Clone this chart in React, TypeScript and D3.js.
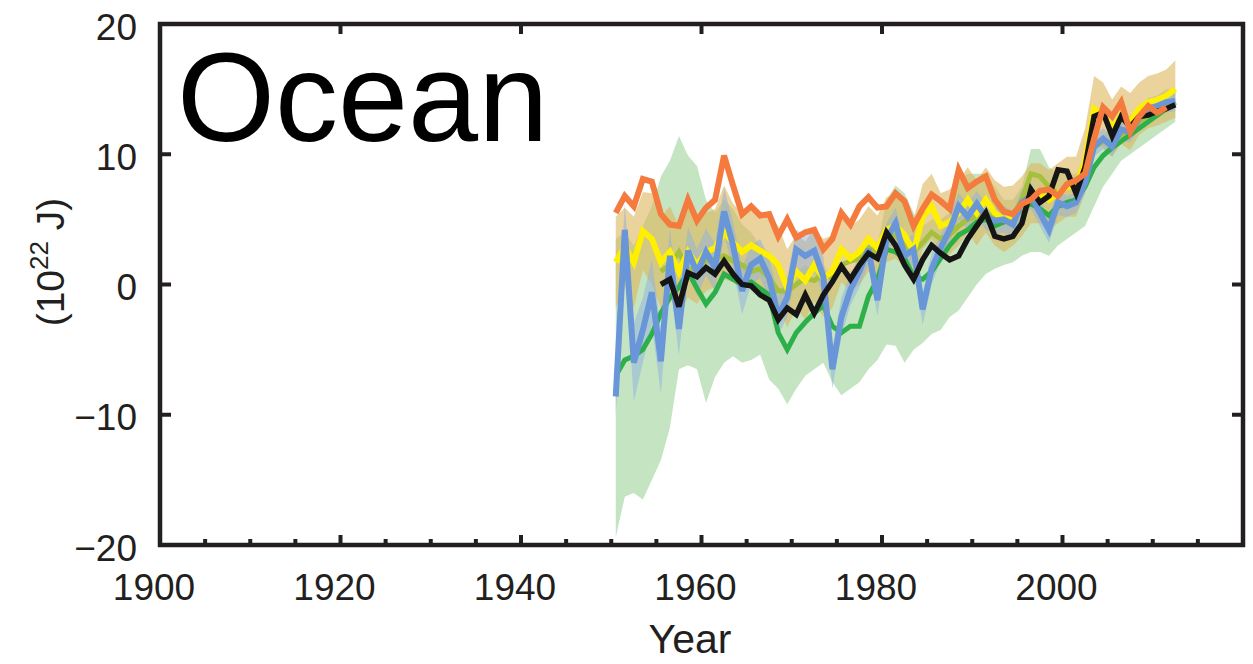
import React from 'react';
import * as d3 from 'd3';

const W = 1253;
const H = 664;

// Years of the annual series (values plotted at mid-year)
const years: number[] = d3.range(1950, 2013);

// Series values (10^22 J), 1950..2012 (null = no data)
const orange: (number | null)[] = [
  5.5, 6.8, 6.0, 8.1, 7.9, 5.4, 4.6, 4.5, 6.5, 4.9,
  5.9, 6.5, 9.9, 7.6, 5.4, 6.0, 5.3, 5.4, 3.7, 5.0,
  3.6, 4.0, 4.2, 2.7, 3.5, 5.5, 4.6, 6.0, 6.7, 5.9,
  6.0, 7.0, 6.4, 4.5, 5.8, 6.9, 6.4, 5.8, 8.8, 7.4,
  7.9, 8.3, 6.5, 5.6, 5.4, 6.2, 6.5, 7.2, 7.3, 6.8,
  7.7, 8.0, 8.5, 11.2, 13.6, 12.9, 14.0, 11.7, 12.9, 13.7,
  13.2, 13.6, null,
];

const black: (number | null)[] = [
  null, null, null, null, null,
  0.0, 0.4, -1.7, 0.9, 0.6,
  1.3, 0.8, 1.8, 0.8, 0.0, -0.1, -0.8, -1.2, -2.7, -1.8,
  -2.3, -0.8, -2.2, -0.8, 0.2, 1.4, 0.4, 1.5, 2.4, 2.0,
  4.0, 3.0, 1.5, 0.4, 1.9, 3.0, 2.4, 1.9, 2.2, 3.5,
  4.5, 5.5, 3.7, 3.5, 3.7, 4.7, 7.3, 6.3, 6.8, 8.8,
  8.7, 7.0, 9.0, 12.9, 13.2, 11.4, 12.9, 12.1, 12.9, 13.0,
  13.3, 13.5, 13.8,
];

const blue: number[] = [
  -8.6, 4.2, -6.0, -3.5, -0.6, -5.9, 2.2, -3.4, 2.6, 0.9,
  2.5, 1.3, 5.6, 3.0, -0.5, 1.5, 2.0, 0.5, -2.4, -1.0,
  2.7, 2.2, 2.6, 0.6, -6.5, -2.5, -0.4, 1.0, 2.7, -1.2,
  3.5, 4.7, 2.2, 2.7, -1.9, 1.2, 2.8, 4.2, 6.0, 5.2,
  6.2, 5.2, 4.9, 5.0, 4.6, 6.3, 6.8, 5.5, 4.2, 6.3,
  6.0, 6.3, 7.8, 10.6, 11.2, 10.6, 11.9, 11.7, 12.8, 13.5,
  13.7, 14.0, 14.1,
];

const blueHalf: number[] = [
  1.5, 2.0, 3.0, 2.5, 2.5, 2.5, 2.0, 2.0, 1.8, 1.8,
  1.8, 1.8, 1.8, 1.8, 1.8, 1.5, 1.5, 1.5, 1.5, 1.5,
  1.5, 1.5, 1.5, 1.5, 1.5, 1.5, 1.2, 1.2, 1.2, 1.2,
  1.2, 1.2, 1.2, 1.2, 1.2, 1.2, 1.0, 1.0, 1.0, 1.0,
  1.0, 1.0, 1.0, 1.0, 1.0, 1.0, 1.0, 1.0, 1.0, 1.0,
  0.8, 0.8, 0.8, 0.8, 0.8, 0.8, 0.8, 0.8, 0.8, 0.8,
  0.8, 0.8, 0.8,
];

const green: number[] = [
  -7.0, -5.8, -5.5, -5.0, -3.8, -2.2, -1.0, -0.2, 1.0, -0.3,
  -1.5, -0.6, 0.8, 0.4, 0.0, 0.2, -0.3, -0.8, -3.7, -5.0,
  -3.7, -2.9, -2.2, -1.6, -3.2, -3.7, -3.2, -3.2, -0.9, 0.4,
  2.7, 2.5, 2.0, 0.6, 0.4, 1.0, 2.0, 3.0, 3.8, 4.2,
  4.8, 5.0, 4.5, 4.8, 5.0, 5.8, 6.2, 5.8, 5.3, 6.0,
  6.3, 6.5, 7.5, 9.0, 9.9, 10.5, 11.0, 11.5, 12.0, 12.5,
  13.0, 13.5, 14.0,
];

const greenHi: number[] = [
  3.5, 4.0, 3.0, 4.5, 6.0, 8.3, 9.5, 11.4, 9.9, 9.1,
  6.5, 5.5, 6.5, 5.8, 4.6, 4.0, 3.0, 2.5, 1.5, 0.5,
  1.0, 1.5, 1.0, 1.5, 0.5, 1.0, 1.0, 1.5, 2.5, 3.0,
  6.5, 7.6, 7.0, 5.5, 4.5, 5.0, 5.0, 5.5, 8.0, 8.5,
  8.5, 8.5, 7.5, 6.5, 6.5, 7.5, 10.4, 10.4, 9.0, 8.5,
  8.5, 8.5, 9.5, 11.0, 11.5, 12.0, 12.5, 13.0, 13.5, 14.0,
  14.5, 15.0, 15.0,
];

const greenLo: number[] = [
  -19.4, -16.3, -16.0, -16.5, -15.0, -13.5, -11.0, -6.5, -6.2, -6.5,
  -9.1, -7.1, -6.0, -5.5, -6.0, -5.8, -5.4, -7.3, -8.0, -9.2,
  -8.0, -7.0, -6.5, -6.0, -7.5, -8.5, -8.0, -7.5, -6.5, -5.8,
  -4.6, -4.7, -6.0, -5.0, -4.5, -3.8, -3.5, -2.5, -2.0, -1.0,
  0.0, 0.8, 1.2, 1.5, 1.7, 2.2, 2.5, 2.5, 2.2, 3.0,
  3.5, 4.0, 4.5, 6.0, 7.5, 8.5, 9.5, 10.0, 10.5, 11.0,
  11.5, 12.0, 12.5,
];

const yellow: number[] = [
  1.7, 2.9, 1.7, 4.1, 3.5, 1.7, 2.5, 1.0, 2.5, 1.5,
  2.5, 2.8, 4.0, 3.2, 2.5, 3.0, 2.6, 2.2, 1.5, -0.3,
  1.0, 0.3, 1.5, 0.5, 1.0, 2.7, 2.0, 2.5, 3.5, 2.8,
  4.2, 4.5, 3.8, 2.5, 5.2, 6.0, 4.5, 4.8, 5.5, 6.5,
  5.5, 6.5, 5.5, 5.0, 5.3, 6.0, 7.0, 7.0, 6.5, 7.0,
  7.5, 7.5, 9.5, 13.5, 13.0, 12.0, 13.0, 12.5, 13.5, 14.0,
  14.2, 14.5, 15.0,
];

const tanHalf: number[] = [
  3.5, 3.0, 3.5, 3.0, 3.5, 3.5, 3.5, 3.5, 3.5, 3.0,
  3.0, 3.0, 3.6, 3.0, 3.0, 3.0, 3.0, 3.0, 3.0, 3.0,
  2.8, 3.0, 2.8, 3.0, 2.8, 2.5, 2.5, 2.5, 2.5, 2.5,
  2.5, 2.5, 2.5, 2.5, 2.5, 2.5, 2.5, 2.5, 2.5, 2.5,
  2.5, 2.5, 2.5, 2.5, 2.3, 2.3, 2.3, 2.3, 2.3, 2.3,
  2.3, 2.3, 2.5, 2.5, 2.5, 2.2, 2.2, 2.2, 2.0, 2.0,
  2.0, 2.0, 2.2,
];

const olive: (number | null)[] = [
  null, null, null, null, null,
  1.0, 1.5, 2.5, 1.0, 1.5,
  1.8, 2.0, 2.2, 1.8, 1.5, 1.0, 1.2, 0.5, -0.5, -0.5,
  0.0, 0.5, 0.3, 0.8, 0.5, 1.5, 1.8, 2.0, 2.8, 2.5,
  3.5, 3.8, 3.0, 2.5, 3.2, 4.0, 3.5, 3.8, 4.5, 5.0,
  5.2, 5.5, 5.0, 5.0, 5.2, 6.5, 8.5, 8.3, 7.5, 7.0,
  7.5, 7.8, 8.5, 10.5, 11.0, 10.8, 11.5, 12.0, 12.5, 13.0,
  13.3, 13.6, 14.0,
];

// Axis ticks
const xLabelTicks = [1900, 1920, 1940, 1960, 1980, 2000];
const xMajorTicks = [1900, 1920, 1940, 1960, 1980, 2000, 2020];
const xMinorTicks = [1905, 1910, 1915, 1925, 1930, 1935, 1945, 1950, 1955, 1965, 1970, 1975, 1985, 1990, 1995, 2005, 2010, 2015];
const yTicks = [-20, -10, 0, 10, 20];
const yInnerTicks = [-10, 0, 10];

const FONT = "'Liberation Sans', Arial, Helvetica, sans-serif";
const AXIS = '#231f20';

export default function App() {
  const x = d3.scaleLinear().domain([1900, 2020]).range([160, 1243]);
  const y = d3.scaleLinear().domain([-20, 20]).range([545, 24]);
  const px = (i: number) => x(years[i] + 0.5);

  const lineOf = (vals: (number | null)[]) =>
    d3
      .line<number>()
      .defined((i) => vals[i] !== null && vals[i] !== undefined)
      .x((i) => px(i))
      .y((i) => y(vals[i] as number))(years.map((_, i) => i)) || '';

  const areaOf = (lo: number[], hi: number[]) =>
    d3
      .area<number>()
      .x((i) => px(i))
      .y0((i) => y(lo[i]))
      .y1((i) => y(hi[i]))(years.map((_, i) => i)) || '';

  const blueLo = blue.map((v, i) => v - blueHalf[i]);
  const blueHi = blue.map((v, i) => v + blueHalf[i]);
  const tanLo = yellow.map((v, i) => v - tanHalf[i]);
  const tanHi = yellow.map((v, i) => v + tanHalf[i]);

  const x0 = x(1900);
  const x1 = x(2020);
  const yTop = y(20);
  const yBot = y(-20);

  const lines = [
    { d: lineOf(green), c: '#2db04a', w: 5 },
    { d: lineOf(olive), c: '#a4c03c', w: 5 },
    { d: lineOf(yellow), c: '#fff000', w: 6 },
    { d: lineOf(blue), c: '#6896d8', w: 6 },
    { d: lineOf(black), c: '#151515', w: 5.5 },
    { d: lineOf(orange), c: '#f47a3e', w: 6 },
  ];

  return (
    <svg
      width={W}
      height={H}
      style={{ position: 'absolute', left: 0, top: 0, background: '#fff' }}
      fontFamily={FONT}
    >
      <defs>
        <clipPath id="plot">
          <rect x={x0} y={yTop} width={x1 - x0} height={yBot - yTop} />
        </clipPath>
      </defs>
      <rect x={0} y={0} width={W} height={H} fill="#fff" />

      <g clipPath="url(#plot)">
        <path d={areaOf(greenLo, greenHi)} fill="#9fd49a" fillOpacity={0.6} />
        <path d={areaOf(tanLo, tanHi)} fill="#dcb65a" fillOpacity={0.6} />
        <path d={areaOf(blueLo, blueHi)} fill="#8fb0e0" fillOpacity={0.5} />
        {lines.map((l, i) => (
          <path
            key={i}
            d={l.d}
            fill="none"
            stroke={l.c}
            strokeWidth={l.w}
            strokeLinejoin="miter"
            strokeMiterlimit={3}
          />
        ))}
      </g>

      {/* Ticks */}
      <g stroke={AXIS} strokeWidth={4}>
        {xMajorTicks.map((t) => (
          <line key={'bM' + t} x1={x(t)} x2={x(t)} y1={yBot} y2={yBot - 10} />
        ))}
        {xMinorTicks.map((t) => (
          <line key={'bm' + t} x1={x(t)} x2={x(t)} y1={yBot} y2={yBot - 6} />
        ))}
        {xMajorTicks.map((t) => (
          <line key={'tM' + t} x1={x(t)} x2={x(t)} y1={yTop} y2={yTop + 10} />
        ))}
        {yInnerTicks.map((t) => (
          <line key={'l' + t} x1={x0} x2={x0 + 11} y1={y(t)} y2={y(t)} />
        ))}
        {yInnerTicks.map((t) => (
          <line key={'r' + t} x1={x1} x2={x1 - 11} y1={y(t)} y2={y(t)} />
        ))}
      </g>

      {/* Frame */}
      <rect
        x={x0}
        y={yTop}
        width={x1 - x0}
        height={yBot - yTop}
        fill="none"
        stroke={AXIS}
        strokeWidth={4.5}
      />

      {/* Y tick labels */}
      {yTicks.map((t) => (
        <text
          key={'yl' + t}
          x={137}
          y={y(t) + 3}
          textAnchor="end"
          dominantBaseline="central"
          fontSize={37}
          fill={AXIS}
        >
          {t < 0 ? '\u2212' + Math.abs(t) : String(t)}
        </text>
      ))}

      {/* X tick labels */}
      {xLabelTicks.map((t) => (
        <text key={'xl' + t} x={x(t) - 6} y={600} textAnchor="middle" fontSize={37} fill={AXIS}>
          {t}
        </text>
      ))}

      {/* Axis titles */}
      <text x={690} y={653} textAnchor="middle" fontSize={41} fill={AXIS}>
        Year
      </text>
      <text transform="translate(64,262) rotate(-90)" textAnchor="middle" fontSize={39} fill={AXIS}>
        (10
        <tspan fontSize={26} dy={-16}>
          22
        </tspan>
        <tspan dy={16}> J)</tspan>
      </text>

      {/* Panel label */}
      <text x={177} y={141} fontSize={126} fill="#000">
        Ocean
      </text>
    </svg>
  );
}
